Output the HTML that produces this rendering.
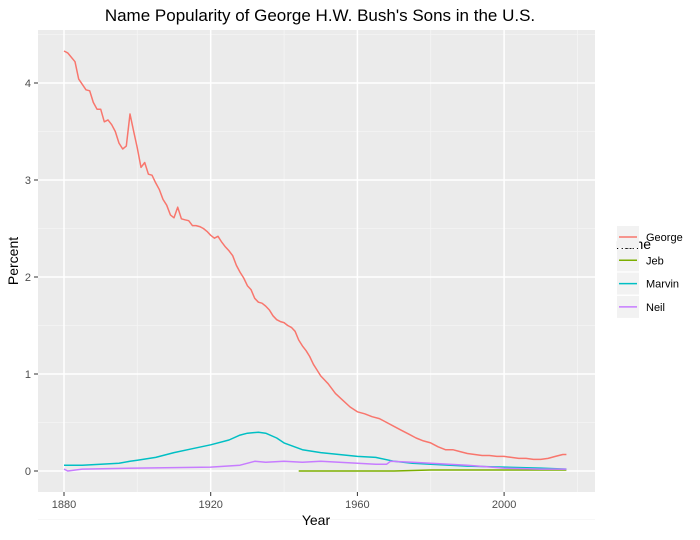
<!DOCTYPE html>
<html><head><meta charset="utf-8"><style>
body{margin:0;background:#fff;}
svg text{font-family:"Liberation Sans",sans-serif;}
</style></head><body>
<svg id="chart" width="700" height="535" xmlns="http://www.w3.org/2000/svg">
<text x="320" y="21" font-size="17" text-anchor="middle" fill="#000">Name Popularity of George H.W. Bush's Sons in the U.S.</text>
<rect x="38" y="30" width="557" height="462" fill="#ebebeb"/>
<g id="grid"></g>
<g id="series"></g>
<g id="axes"></g>
<text x="316" y="525" font-size="14" text-anchor="middle">Year</text>
<text x="18" y="261" font-size="14" text-anchor="middle" transform="rotate(-90 18 261)">Percent</text>
<g id="legend">
<text x="616" y="249" font-size="14">name</text>
</g>
</svg>
<script>
const names = ["George","Jeb","Marvin","Neil"];
const colors = ["#F8766D","#7CAE00","#00BFC4","#C77CFF"];
const xTicks = [1880,1920,1960,2000];
const yTicks = [0,1,2,3,4];
const georgeYears = [1880,1881,1883,1884,1886,1887,1888,1889,1890,1891,1892,1893,1894,1895,1896,1897,1898,1899,1900,1901,1902,1903,1904,1905,1906,1907,1908,1909,1910,1911,1912,1913,1914,1915,1916,1917,1918,1919,1920,1921,1922,1923,1924,1925,1926,1927,1928,1929,1930,1931,1932,1933,1934,1935,1936,1937,1938,1939,1940,1941,1942,1943,1944,1945,1946,1947,1948,1949,1950,1952,1954,1956,1958,1960,1962,1964,1966,1968,1970,1972,1974,1976,1978,1980,1982,1984,1986,1988,1990,1992,1994,1996,1998,2000,2002,2004,2006,2008,2010,2012,2014,2016,2017];
const georgeValues = [4.33,4.31,4.22,4.04,3.93,3.92,3.80,3.73,3.73,3.60,3.62,3.57,3.50,3.38,3.32,3.35,3.68,3.50,3.33,3.13,3.18,3.06,3.05,2.97,2.90,2.80,2.74,2.64,2.61,2.72,2.60,2.59,2.58,2.53,2.53,2.52,2.50,2.47,2.43,2.40,2.42,2.36,2.31,2.27,2.22,2.12,2.05,1.99,1.91,1.87,1.78,1.74,1.73,1.70,1.66,1.60,1.56,1.54,1.53,1.50,1.48,1.44,1.35,1.29,1.24,1.18,1.10,1.04,0.98,0.90,0.80,0.73,0.66,0.61,0.59,0.56,0.54,0.50,0.46,0.42,0.38,0.34,0.31,0.29,0.25,0.22,0.22,0.20,0.18,0.17,0.16,0.16,0.15,0.15,0.14,0.13,0.13,0.12,0.12,0.13,0.15,0.17,0.17];
const jebYears = [1944,1960,1970,1980,1990,2000,2010,2017];
const jebValues = [0.00,0.00,0.00,0.01,0.01,0.01,0.01,0.01];
const marvinYears = [1880,1885,1890,1895,1898,1900,1905,1910,1915,1920,1925,1928,1930,1933,1935,1938,1940,1945,1950,1955,1960,1965,1970,1975,1980,1990,2000,2010,2017];
const marvinValues = [0.06,0.06,0.07,0.08,0.10,0.11,0.14,0.19,0.23,0.27,0.32,0.37,0.39,0.40,0.39,0.34,0.29,0.22,0.19,0.17,0.15,0.14,0.10,0.08,0.07,0.05,0.04,0.03,0.02];
const neilYears = [1880,1881,1885,1900,1920,1928,1932,1935,1940,1945,1950,1955,1960,1965,1968,1969,1975,1980,1990,2000,2010,2017];
const neilValues = [0.02,0.00,0.02,0.03,0.04,0.06,0.10,0.09,0.10,0.09,0.10,0.09,0.08,0.07,0.07,0.10,0.09,0.08,0.06,0.03,0.02,0.02];
const seriesYears = [georgeYears,jebYears,marvinYears,neilYears];
const seriesValues = [georgeValues,jebValues,marvinValues,neilValues];

const NS="http://www.w3.org/2000/svg";
const x = yr => 64 + (yr-1880)*(146.7/40);
const y = v => 471 - v*97;
const grid=document.getElementById('grid'), axes=document.getElementById('axes'), ser=document.getElementById('series');
function mk(tag, attrs, parent){const e=document.createElementNS(NS,tag);for(const k in attrs)e.setAttribute(k,attrs[k]);parent.appendChild(e);return e;}
// minor grid
for(let i=0;i<xTicks.length;i++){
  const m = xTicks[i]+20;
  const gl = mk('line',{x1:x(m),x2:x(m),y1:30,y2:492,stroke:'#f5f5f5','stroke-width':0.8},grid);
  
  
}
for(let i=0;i<yTicks.length;i++){
  const m = yTicks[i]+0.5;
  const gl = mk('line',{x1:38,x2:595,y1:y(m),y2:y(m),stroke:'#f5f5f5','stroke-width':0.8},grid);
  
  
}
{const gl=mk('line',{x1:38,x2:595,y1:y(-0.5)+0,y2:y(-0.5),stroke:'#f5f5f5','stroke-width':0.8},grid);}
xTicks.forEach(t=>{
  const gl=mk('line',{x1:x(t),x2:x(t),y1:30,y2:492,stroke:'#fff','stroke-width':1.5},grid);
  
  
  const tk=mk('line',{x1:x(t),x2:x(t),y1:492,y2:496,stroke:'#333','stroke-width':1},axes);
  
  
  const tx=mk('text',{x:x(t),y:508,'font-size':11,'text-anchor':'middle',fill:'#4d4d4d'},axes);
  tx.textContent=t;
  
  
});
yTicks.forEach(t=>{
  const gl=mk('line',{x1:38,x2:595,y1:y(t),y2:y(t),stroke:'#fff','stroke-width':1.5},grid);
  
  
  const tk=mk('line',{x1:34,x2:38,y1:y(t),y2:y(t),stroke:'#333','stroke-width':1},axes);
  
  
  const tx=mk('text',{x:31,y:y(t)+4,'font-size':11,'text-anchor':'end',fill:'#4d4d4d'},axes);
  tx.textContent=t;
  
  
});
// series (draw Jeb first? keep order George, Jeb, Marvin, Neil)
names.forEach((n,i)=>{
  const pts=seriesYears[i].map((yr,j)=>x(yr).toFixed(1)+','+y(seriesValues[i][j]).toFixed(1)).join(' ');
  const pl=mk('polyline',{points:pts,fill:'none',stroke:colors[i],'stroke-width':1.5,'stroke-linejoin':'round'},ser);
  
  
});
// legend
const leg=document.getElementById('legend');
names.forEach((n,i)=>{
  const cy=237+i*23.3;
  const g=mk('g',{},leg);
  
  
  mk('rect',{x:617,y:cy-11,width:22,height:22,fill:'#f2f2f2'},g);
  mk('line',{x1:619,x2:637,y1:cy,y2:cy,stroke:colors[i],'stroke-width':1.5},g);
  const t=mk('text',{x:646,y:cy+4,'font-size':11,fill:'#000'},g);
  t.textContent=n;
});
</script>
</body></html>
